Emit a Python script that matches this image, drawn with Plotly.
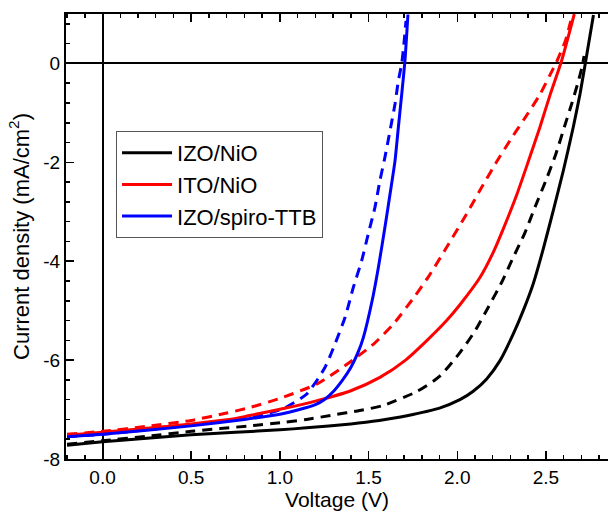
import plotly.graph_objects as go

# ---- data ----
v_izo_nio = [-0.2, 0.0, 0.25, 0.5, 0.75, 1.0, 1.15, 1.4, 1.56, 1.68, 1.75, 1.9, 2.015, 2.09, 2.166,
             2.241, 2.316, 2.372, 2.428, 2.485, 2.541, 2.598, 2.654, 2.692, 2.722, 2.768]
j_izo_nio = [-7.72, -7.65, -7.58, -7.51, -7.46, -7.41, -7.37, -7.29, -7.22, -7.15, -7.10, -6.97, -6.80,
             -6.63, -6.38, -6.01, -5.47, -5.00, -4.46, -3.75, -2.98, -2.17, -1.29, -0.62, 0.0, 0.98]

v_izo_nio_d = [-0.2, 0.0, 0.25, 0.5, 0.83, 1.02, 1.15, 1.30, 1.45, 1.58, 1.77, 1.90, 2.015, 2.10, 2.175,
               2.25, 2.316, 2.382, 2.438, 2.504, 2.556, 2.607, 2.645, 2.682, 2.705, 2.715]
j_izo_nio_d = [-7.70, -7.63, -7.54, -7.44, -7.33, -7.26, -7.20, -7.11, -7.02, -6.92, -6.64, -6.33, -5.85,
               -5.41, -4.93, -4.43, -3.92, -3.42, -2.91, -2.33, -1.83, -1.25, -0.82, -0.37, -0.05, 0.15]

v_ito_nio = [-0.2, 0.0, 0.25, 0.5, 0.75, 0.83, 1.02, 1.2, 1.4, 1.564, 1.705, 1.827, 1.94, 2.015, 2.128,
             2.203, 2.259, 2.335, 2.40, 2.466, 2.523, 2.588, 2.660]
j_ito_nio = [-7.52, -7.46, -7.38, -7.29, -7.18, -7.12, -6.98, -6.83, -6.62, -6.35, -6.01, -5.61, -5.20,
             -4.88, -4.33, -3.82, -3.35, -2.66, -1.99, -1.29, -0.64, 0.05, 1.0]

v_ito_nio_d = [-0.2, 0.0, 0.25, 0.5, 0.7, 0.83, 1.02, 1.21, 1.38, 1.53, 1.64, 1.75, 1.84, 1.93, 2.03,
               2.071, 2.137, 2.222, 2.297, 2.382, 2.466, 2.523, 2.556, 2.61, 2.64]
j_ito_nio_d = [-7.50, -7.44, -7.34, -7.22, -7.07, -6.96, -6.75, -6.48, -6.08, -5.67, -5.27, -4.76, -4.30,
               -3.78, -3.18, -2.93, -2.51, -1.99, -1.56, -1.10, -0.63, -0.23, 0.0, 0.46, 0.86]

v_spiro = [-0.2, 0.0, 0.25, 0.5, 0.8, 1.02, 1.1, 1.2, 1.25, 1.30, 1.35, 1.40, 1.44, 1.47, 1.52, 1.555,
           1.592, 1.621, 1.649, 1.668, 1.687, 1.705, 1.722]
j_spiro = [-7.55, -7.50, -7.42, -7.33, -7.20, -7.08, -7.01, -6.90, -6.80, -6.64, -6.42, -6.15, -5.85,
           -5.55, -4.80, -4.13, -3.32, -2.64, -1.97, -1.29, -0.62, 0.05, 0.99]

v_spiro_d = [-0.2, 0.0, 0.25, 0.5, 0.8, 0.95, 1.02, 1.15, 1.254, 1.311, 1.367, 1.414, 1.461, 1.498,
             1.536, 1.564, 1.592, 1.621, 1.649, 1.668, 1.687, 1.698, 1.711]
j_spiro_d = [-7.55, -7.50, -7.41, -7.31, -7.17, -7.06, -6.98, -6.69, -6.15, -5.67, -5.14, -4.53, -3.99,
             -3.45, -2.91, -2.37, -1.90, -1.36, -0.82, -0.35, 0.0, 0.35, 0.86]

series_names = ["IZO/NiO", "ITO/NiO", "IZO/spiro-TTB"]
series_colors = ["#000000", "#ff0000", "#0000ff"]

x_ticks = [0.0, 0.5, 1.0, 1.5, 2.0, 2.5]
x_ticklabels = ["0.0", "0.5", "1.0", "1.5", "2.0", "2.5"]
y_ticks = [-8, -6, -4, -2, 0]
y_ticklabels = ["-8", "-6", "-4", "-2", "0"]

FONT = "Liberation Sans, Arial, sans-serif"

solid = [(v_izo_nio, j_izo_nio), (v_ito_nio, j_ito_nio), (v_spiro, j_spiro)]
dashed = [(v_izo_nio_d, j_izo_nio_d), (v_ito_nio_d, j_ito_nio_d), (v_spiro_d, j_spiro_d)]

fig = go.Figure()
for (vx, jy), name, col in zip(dashed, series_names, series_colors):
    fig.add_trace(go.Scatter(x=vx, y=jy, mode="lines", name=name + " (dashed)", showlegend=False,
                             line=dict(color=col, width=3, dash="10px,7px", shape="spline", smoothing=0.6)))
for (vx, jy), name, col in zip(solid, series_names, series_colors):
    fig.add_trace(go.Scatter(x=vx, y=jy, mode="lines", name=name,
                             line=dict(color=col, width=3, shape="spline", smoothing=0.6)))

axis_common = dict(showline=True, linecolor="black", linewidth=2, ticks="inside",
                   tickcolor="black", tickwidth=1.5, ticklen=8, showgrid=False,
                   zeroline=True, zerolinecolor="black", zerolinewidth=2, automargin=False,
                   tickfont=dict(family=FONT, size=19, color="black"))

fig.update_xaxes(range=[-0.206, 2.85], tickvals=x_ticks, ticktext=x_ticklabels, mirror="ticks",
                 minor=dict(ticks="inside", ticklen=4, dtick=0.1, tick0=0, tickcolor="black", tickwidth=1.5),
                 title=dict(text="Voltage (V)", font=dict(family=FONT, size=21, color="black"), standoff=4),
                 **axis_common)
fig.update_yaxes(range=[-8, 1], tickvals=y_ticks, ticktext=y_ticklabels, mirror=False,
                 minor=dict(ticks="inside", ticklen=4, dtick=0.4, tick0=0, tickcolor="black", tickwidth=1.5),
                 title=dict(text="Current density (mA/cm<sup>2</sup>)",
                            font=dict(family=FONT, size=22, color="black"), standoff=8),
                 **axis_common)

fig.update_layout(
    width=608, height=514,
    margin=dict(l=66, r=0, t=14, b=55),
    paper_bgcolor="white", plot_bgcolor="white",
    font=dict(family=FONT, color="black"),
    legend=dict(x=0.0923, y=0.737, xanchor="left", yanchor="top",
                bgcolor="white", bordercolor="#555555", borderwidth=1,
                font=dict(family=FONT, size=22, color="black"),
                tracegroupgap=0, itemwidth=50),
)

fig.write_html("out.html",
               config={"displayModeBar": False, "staticPlot": True},
               post_script="document.body.style.margin='0';document.body.style.padding='0';"
                           "document.body.style.overflow='hidden';")
